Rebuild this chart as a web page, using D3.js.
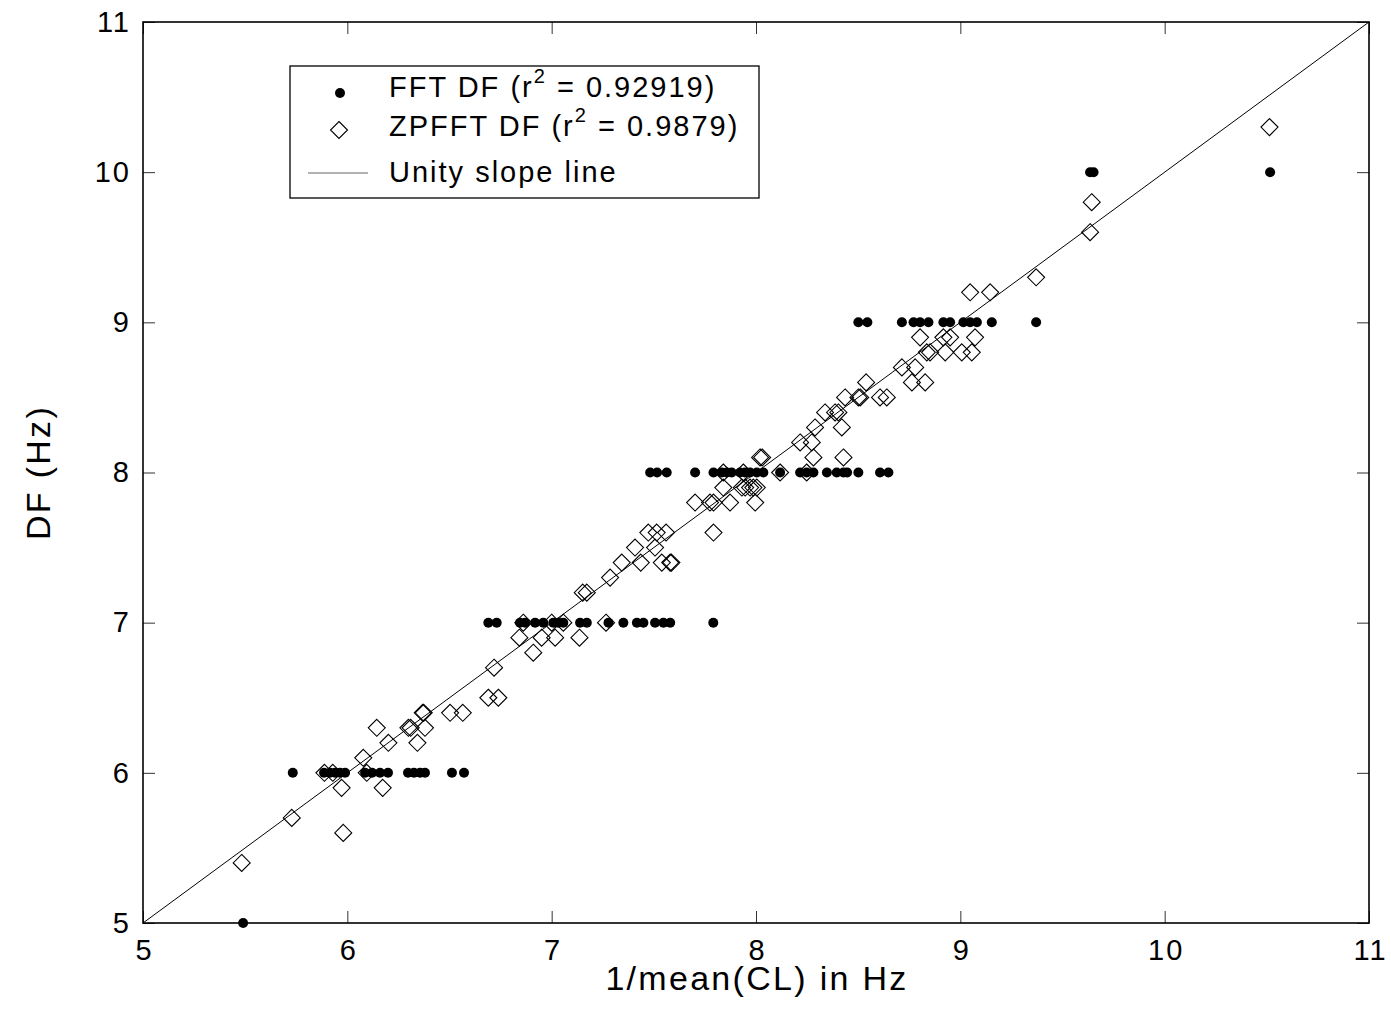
<!DOCTYPE html>
<html>
<head>
<meta charset="utf-8">
<script src="https://cdn.jsdelivr.net/npm/d3@7"></script>
<style>
  body { margin: 0; background: #fff; }
  svg { display: block; }
  text { font-family: "Liberation Sans", Arial, sans-serif; fill: #000; }
</style>
</head>
<body>
<svg id="chart" width="1391" height="1013"></svg>
<script>
// FFT DF: dominant frequency snaps to whole Hz
const fftX = [
  5.49,
  5.733, 5.886, 5.915, 5.940, 5.964, 5.989, 6.087, 6.121, 6.160, 6.199, 6.297, 6.326, 6.356, 6.380, 6.512, 6.571,
  6.690, 6.731, 6.845, 6.870, 6.919, 6.959, 7.008, 7.033, 7.057, 7.139, 7.172, 7.278, 7.351, 7.417, 7.449, 7.506, 7.547, 7.580, 7.791,
  7.482, 7.516, 7.563, 7.702, 7.792, 7.833, 7.857, 7.881, 7.922, 7.946, 7.971, 8.004, 8.036, 8.118, 8.216, 8.248, 8.281, 8.347, 8.395, 8.428, 8.446, 8.501, 8.607, 8.648,
  8.501, 8.545, 8.714, 8.771, 8.803, 8.844, 8.917, 8.950, 9.015, 9.048, 9.081, 9.154, 9.371,
  9.635, 9.652, 10.516
];
const fftY = [
  5,
  6, 6, 6, 6, 6, 6, 6, 6, 6, 6, 6, 6, 6, 6, 6, 6,
  7, 7, 7, 7, 7, 7, 7, 7, 7, 7, 7, 7, 7, 7, 7, 7, 7, 7, 7,
  8, 8, 8, 8, 8, 8, 8, 8, 8, 8, 8, 8, 8, 8, 8, 8, 8, 8, 8, 8, 8, 8, 8, 8,
  9, 9, 9, 9, 9, 9, 9, 9, 9, 9, 9, 9, 9,
  10, 10, 10
];

// zero-padded FFT DF: 0.1 Hz resolution
const zpX = [
  5.483, 5.728, 5.980, 5.888, 5.929, 5.972, 6.078, 6.095, 6.144, 6.201, 6.173, 6.299, 6.310, 6.343, 6.369, 6.374, 6.380,
  6.503, 6.565, 6.690, 6.739, 6.718, 6.842, 6.861, 6.910, 6.951, 7.000, 7.017, 7.057, 7.136, 7.152, 7.172, 7.266, 7.286,
  7.343, 7.408, 7.436, 7.473, 7.506, 7.514, 7.560, 7.539, 7.580, 7.586,
  7.702, 7.775, 7.792, 7.792, 7.873, 7.996, 7.840, 7.931, 7.947, 7.971, 7.987, 8.004, 7.840, 7.938, 8.020, 8.030, 8.118,
  8.216, 8.273, 8.281, 8.248, 8.289, 8.338, 8.387, 8.403, 8.420, 8.428, 8.436, 8.501, 8.510, 8.539, 8.607, 8.640,
  8.714, 8.779, 8.763, 8.828, 8.803, 8.836, 8.852, 8.917, 8.950, 8.926, 9.007, 9.056, 9.072, 9.048, 9.146,
  9.371, 9.635, 9.643, 10.513
];
const zpY = [
  5.4, 5.7, 5.6, 6.0, 6.0, 5.9, 6.1, 6.0, 6.3, 6.2, 5.9, 6.3, 6.3, 6.2, 6.4, 6.4, 6.3,
  6.4, 6.4, 6.5, 6.5, 6.7, 6.9, 7.0, 6.8, 6.9, 7.0, 6.9, 7.0, 6.9, 7.2, 7.2, 7.0, 7.3,
  7.4, 7.5, 7.4, 7.6, 7.5, 7.6, 7.6, 7.4, 7.4, 7.4,
  7.8, 7.8, 7.6, 7.8, 7.8, 7.8, 7.9, 7.9, 7.9, 7.9, 7.9, 7.9, 8.0, 8.0, 8.1, 8.1, 8.0,
  8.2, 8.2, 8.1, 8.0, 8.3, 8.4, 8.4, 8.4, 8.3, 8.1, 8.5, 8.5, 8.5, 8.6, 8.5, 8.5,
  8.7, 8.7, 8.6, 8.6, 8.9, 8.8, 8.8, 8.9, 8.9, 8.8, 8.8, 8.8, 8.9, 9.2, 9.2,
  9.3, 9.6, 9.8, 10.3
];

const unityLine = [5, 11];
const ticks = [5, 6, 7, 8, 9, 10, 11];
const xLabel = '1/mean(CL) in Hz';
const yLabel = 'DF (Hz)';

const legendItems = [
  { type: 'dot', label: 'FFT DF (r', sup: '2', rest: ' = 0.92919)' },
  { type: 'diamond', label: 'ZPFFT DF (r', sup: '2', rest: ' = 0.9879)' },
  { type: 'line', label: 'Unity slope line' }
];

const margin = { top: 22, right: 22, bottom: 90, left: 143 };
const width = 1391;
const height = 1013;
const plotW = width - margin.left - margin.right;
const plotH = height - margin.top - margin.bottom;

const svg = d3.select('#chart');
const g = svg.append('g').attr('transform', `translate(${margin.left},${margin.top})`);

const x = d3.scaleLinear().domain([5, 11]).range([0, plotW]);
const y = d3.scaleLinear().domain([5, 11]).range([plotH, 0]);

function diamond(r) {
  return `M0,${-r}L${r},0L0,${r}L${-r},0Z`;
}

function styleAxis(sel) {
  sel.select('.domain').remove();
  sel.selectAll('.tick line').attr('stroke', '#333').attr('stroke-width', 1);
  sel.selectAll('.tick text')
    .style('font-size', '29px')
    .style('letter-spacing', '2px');
}

// axes, ticks pointing inwards on all four sides
g.append('g')
  .attr('transform', `translate(0,${plotH})`)
  .call(d3.axisBottom(x).tickValues(ticks).tickSize(-12).tickPadding(16).tickFormat(d3.format('d')))
  .call(styleAxis)
  .selectAll('.tick text').attr('dx', 1);
g.append('g')
  .call(d3.axisLeft(y).tickValues(ticks).tickSize(-12).tickPadding(12).tickFormat(d3.format('d')))
  .call(styleAxis);
g.append('g')
  .call(d3.axisTop(x).tickValues(ticks).tickSize(-12).tickFormat(''))
  .call(styleAxis);
g.append('g')
  .attr('transform', `translate(${plotW},0)`)
  .call(d3.axisRight(y).tickValues(ticks).tickSize(-12).tickFormat(''))
  .call(styleAxis);

g.append('rect')
  .attr('width', plotW)
  .attr('height', plotH)
  .attr('fill', 'none')
  .attr('stroke', '#000')
  .attr('stroke-width', 1.6);

// unity slope line
g.append('line')
  .attr('x1', x(unityLine[0])).attr('y1', y(unityLine[0]))
  .attr('x2', x(unityLine[1])).attr('y2', y(unityLine[1]))
  .attr('stroke', '#000')
  .attr('stroke-width', 1);

// ZPFFT diamonds
g.selectAll('.zp')
  .data(zpX.map((v, i) => ({ x: v, y: zpY[i] })))
  .enter().append('path')
  .attr('class', 'zp')
  .attr('d', diamond(8.5))
  .attr('transform', d => `translate(${x(d.x)},${y(d.y)})`)
  .attr('fill', 'none')
  .attr('stroke', '#000')
  .attr('stroke-width', 1.1);

// FFT dots
g.selectAll('.fft')
  .data(fftX.map((v, i) => ({ x: v, y: fftY[i] })))
  .enter().append('circle')
  .attr('class', 'fft')
  .attr('cx', d => x(d.x))
  .attr('cy', d => y(d.y))
  .attr('r', 5)
  .attr('fill', '#000');

// axis labels
svg.append('text')
  .attr('x', margin.left + plotW / 2 + 1)
  .attr('y', 990)
  .attr('text-anchor', 'middle')
  .style('font-size', '34px')
  .style('letter-spacing', '2.3px')
  .text(xLabel);

svg.append('text')
  .attr('transform', `translate(50,${margin.top + plotH / 2}) rotate(-90)`)
  .attr('text-anchor', 'middle')
  .style('font-size', '34px')
  .style('letter-spacing', '2.3px')
  .text(yLabel);

// legend
const legend = svg.append('g').attr('transform', 'translate(290,66)');
legend.append('rect')
  .attr('width', 469)
  .attr('height', 132)
  .attr('fill', '#fff')
  .attr('stroke', '#000')
  .attr('stroke-width', 1.3);

const markerY = [27, 64, 107];
const textY = [31, 70, 116];
legendItems.forEach((item, i) => {
  if (item.type === 'dot') {
    legend.append('circle').attr('cx', 50).attr('cy', markerY[i]).attr('r', 5).attr('fill', '#000');
  } else if (item.type === 'diamond') {
    legend.append('path').attr('d', diamond(8.5)).attr('transform', `translate(49,${markerY[i]})`)
      .attr('fill', 'none').attr('stroke', '#000').attr('stroke-width', 1.1);
  } else {
    legend.append('line').attr('x1', 18).attr('x2', 78).attr('y1', markerY[i]).attr('y2', markerY[i])
      .attr('stroke', '#666').attr('stroke-width', 1);
  }
  const t = legend.append('text')
    .attr('x', 99)
    .attr('y', textY[i])
    .style('font-size', '29px')
    .style('letter-spacing', '2px')
    .text(item.label);
  if (item.sup) {
    t.append('tspan').attr('dy', -14).style('font-size', '20px').text(item.sup);
    t.append('tspan').attr('dy', 14).style('font-size', '29px').text(item.rest);
  }
});
</script>
</body>
</html>
